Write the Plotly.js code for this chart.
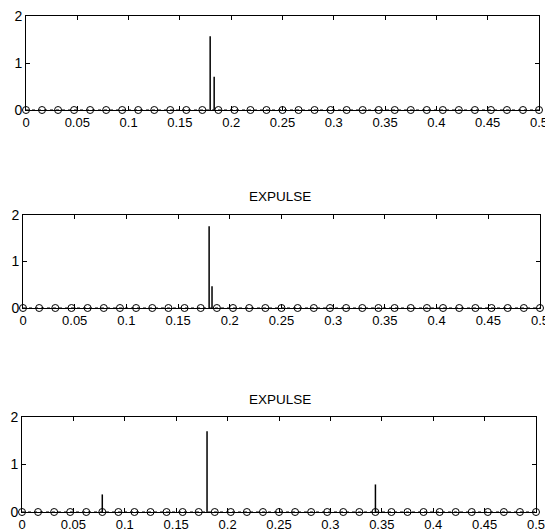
<!DOCTYPE html>
<html><head><meta charset="utf-8">
<script src="https://cdn.plot.ly/plotly-3.0.1.min.js"></script>
<style>body{margin:0;background:#fff}#c{width:545px;height:532px}</style>
</head><body><div id="c"></div>
<script>
// Frequency grid (circles at zero)
const gridFreq = Array.from({length:33},(_,k)=>k/64);
const gridVals = gridFreq.map(()=>0);
// Stems per panel
const stemX1 = [0.1795, 0.1834];
const stemY1 = [1.57, 0.71];
const stemX2 = [0.1800, 0.1828];
const stemY2 = [1.76, 0.47];
const stemX3 = [0.0781, 0.1800, 0.3438];
const stemY3 = [0.37, 1.70, 0.58];
const panelTitles = ["", "EXPULSE", "EXPULSE"];
const xTickVals = [0,0.05,0.1,0.15,0.2,0.25,0.3,0.35,0.4,0.45,0.5];
const xTickText = ["0","0.05","0.1","0.15","0.2","0.25","0.3","0.35","0.4","0.45","0.5"];
const yTickVals = [0,1,2];

function stems(xs, ys){
  const X=[],Y=[];
  xs.forEach((x,i)=>{X.push(x,x,null);Y.push(0,ys[i],null);});
  return {X,Y};
}
const panels=[[stemX1,stemY1],[stemX2,stemY2],[stemX3,stemY3]];
const traces=[];
panels.forEach((p,i)=>{
  const s=stems(p[0],p[1]);
  const xa = i===0?'x':'x'+(i+1), ya = i===0?'y':'y'+(i+1);
  traces.push({x:gridFreq,y:gridVals,xaxis:xa,yaxis:ya,mode:'lines+markers',
    line:{color:'#000',width:1,dash:'dot'},
    marker:{symbol:'circle-open',size:7,color:'#000',line:{width:1,color:'#000'}},
    cliponaxis:false,hoverinfo:'skip'});
  traces.push({x:s.X,y:s.Y,xaxis:xa,yaxis:ya,mode:'lines',
    line:{color:'#000',width:1.5},cliponaxis:false,hoverinfo:'skip'});
});
const font={family:'Liberation Sans, Arial, sans-serif',size:13,color:'#000'};
function xax(d,anchor){return {domain:d,anchor:anchor,range:[0,0.5],tickvals:xTickVals,ticktext:xTickText,
  ticks:'inside',ticklen:4,tickcolor:'#000',showline:true,linecolor:'#000',linewidth:1,mirror:'allticks',
  showgrid:false,zeroline:false,tickfont:font,ticklabelstandoff:0,ticklabeloverflow:'allow'};}
function yax(d,anchor){return {domain:d,anchor:anchor,range:[0,2],tickvals:yTickVals,
  ticks:'inside',ticklen:4,tickcolor:'#000',showline:true,linecolor:'#000',linewidth:1,mirror:'allticks',
  showgrid:false,zeroline:false,tickfont:{family:font.family,size:14,color:'#000'},ticklabelstandoff:0};}
const H=532,W=545;
const layout={
  width:W,height:H,margin:{l:0,r:0,t:0,b:0},showlegend:false,
  paper_bgcolor:'#fff',plot_bgcolor:'#fff',font:font,
  xaxis:xax([26/W,539/W],'y'), yaxis:yax([1-110/H,1-16/H],'x'),
  xaxis2:xax([23/W,540/W],'y2'), yaxis2:yax([1-308/H,1-215/H],'x2'),
  xaxis3:xax([22/W,536/W],'y3'), yaxis3:yax([1-512/H,1-417/H],'x3'),
  annotations:[
    {text:panelTitles[1],xref:'paper',yref:'paper',x:280/W,y:1-196/H,showarrow:false,font:{family:font.family,size:13.5,color:'#000'},xanchor:'center',yanchor:'middle'},
    {text:panelTitles[2],xref:'paper',yref:'paper',x:280/W,y:1-399/H,showarrow:false,font:{family:font.family,size:13.5,color:'#000'},xanchor:'center',yanchor:'middle'}
  ]
};
Plotly.newPlot('c',traces,layout,{staticPlot:true});
</script></body></html>
